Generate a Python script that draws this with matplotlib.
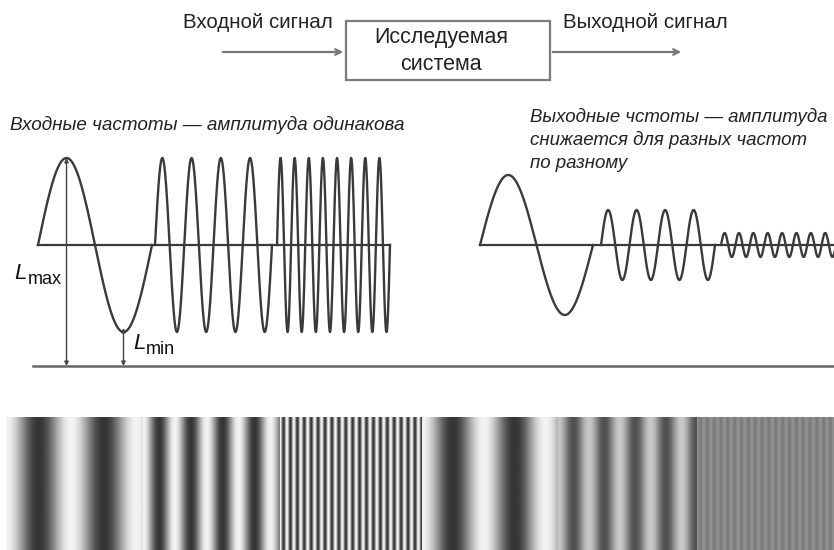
import matplotlib
matplotlib.use("Agg")
import matplotlib.pyplot as plt
import numpy as np

plt.rcParams['font.family'] = ['Liberation Sans', 'DejaVu Sans']

# --- data ---
# input signal: three bursts, same amplitude
in_starts = [38, 155, 277]
in_ends = [152, 272, 390]
in_cycles = [1, 4, 8]
in_amp = [87, 87, 87]
# output signal: same frequencies, amplitude drops
out_starts = [480, 601, 721]
out_ends = [593, 715, 836]
out_cycles = [1, 4, 8]
out_amp = [70, 35, 12]
base_y = 245
ground_y = 366

# gratings below: cycles per panel, mean grey and contrast
grat_left = [6, 143, 280, 422, 558, 697]
grat_right = [143, 280, 422, 558, 697, 834]
grat_cycles = [2.1, 4.3, 20.5, 2.2, 4.5, 20.0]
grat_mean = [148, 148, 150, 148, 140, 134]
grat_amp = [95, 95, 100, 95, 60, 12]

fig = plt.figure(figsize=(8.34, 5.5), dpi=100)
ax = fig.add_axes([0, 0, 1, 1])
ax.set_xlim(0, 834)
ax.set_ylim(550, 0)
ax.axis('off')

wave_col = '#3a3a3a'

# block diagram
ax.add_patch(plt.Rectangle((346, 21), 204, 59, fill=False, ec='#7a7a7a', lw=1.6))
ax.text(441, 38, 'Исследуемая', ha='center', va='center', fontsize=15.5, color='#222')
ax.text(441, 64, 'система', ha='center', va='center', fontsize=15.5, color='#222')
ax.text(183, 23, 'Входной сигнал', ha='left', va='center', fontsize=14.8, color='#222')
ax.text(563, 23, 'Выходной сигнал', ha='left', va='center', fontsize=14.8, color='#222')
ax.annotate('', xy=(346, 52), xytext=(220, 52),
            arrowprops=dict(arrowstyle='->', color='#777', lw=1.6))
ax.annotate('', xy=(684, 52), xytext=(550, 52),
            arrowprops=dict(arrowstyle='->', color='#777', lw=1.6))

# captions
ax.text(10, 125, 'Входные частоты — амплитуда одинакова', style='italic',
        ha='left', va='center', fontsize=13.6, color='#222')
out_lines = ['Выходные чстоты — амплитуда', 'снижается для разных частот', 'по разному']
for i, line in enumerate(out_lines):
    ax.text(530, 117 + 23 * i, line, style='italic', ha='left', va='center',
            fontsize=13.4, color='#222')

# waves
def burst(x0, x1, n, a):
    x = np.linspace(x0, x1, 600)
    y = base_y - a * np.sin(2 * np.pi * n * (x - x0) / (x1 - x0))
    return x, y

for x0, x1, n, a in zip(in_starts, in_ends, in_cycles, in_amp):
    x, y = burst(x0, x1, n, a)
    ax.plot(x, y, color=wave_col, lw=1.7)
for x0, x1, n, a in zip(out_starts, out_ends, out_cycles, out_amp):
    x, y = burst(x0, x1, n, a)
    ax.plot(x, y, color=wave_col, lw=1.7)

ax.plot([in_starts[0], in_ends[-1]], [base_y, base_y], color=wave_col, lw=1.6)
ax.plot([out_starts[0], 834], [base_y, base_y], color=wave_col, lw=1.6)
ax.plot([33, 834], [ground_y, ground_y], color='#666', lw=1.8)

# Lmax / Lmin markers
lmax_x = in_starts[0] + (in_ends[0] - in_starts[0]) / 4
lmin_x = in_starts[0] + 3 * (in_ends[0] - in_starts[0]) / 4
ax.annotate('', xy=(lmax_x, base_y - in_amp[0]), xytext=(lmax_x, ground_y),
            arrowprops=dict(arrowstyle='<|-|>', color='#444', lw=1.0,
                            mutation_scale=6, shrinkA=0, shrinkB=0))
ax.annotate('', xy=(lmin_x, base_y + in_amp[0] - 4), xytext=(lmin_x, ground_y),
            arrowprops=dict(arrowstyle='<|-|>', color='#444', lw=1.0,
                            mutation_scale=6, shrinkA=0, shrinkB=0))
ax.text(14, 279, 'L', style='italic', fontsize=16, ha='left', va='baseline', color='#111')
ax.text(28, 284, 'max', fontsize=13, ha='left', va='baseline', color='#111')
ax.text(133, 349, 'L', style='italic', fontsize=16, ha='left', va='baseline', color='#111')
ax.text(146, 354, 'min', fontsize=13, ha='left', va='baseline', color='#111')

# gratings
for l, r, n, m, a in zip(grat_left, grat_right, grat_cycles, grat_mean, grat_amp):
    u = np.linspace(0, 1, 800)
    row = m + a * np.cos(2 * np.pi * n * u)
    img = np.tile(row, (2, 1))
    ax.imshow(img, cmap='gray', vmin=0, vmax=255, aspect='auto',
              extent=(l, r, 550, 417), interpolation='bilinear')

ax.set_xlim(0, 834)
ax.set_ylim(550, 0)
fig.savefig('out.png', dpi=100, facecolor='white')
